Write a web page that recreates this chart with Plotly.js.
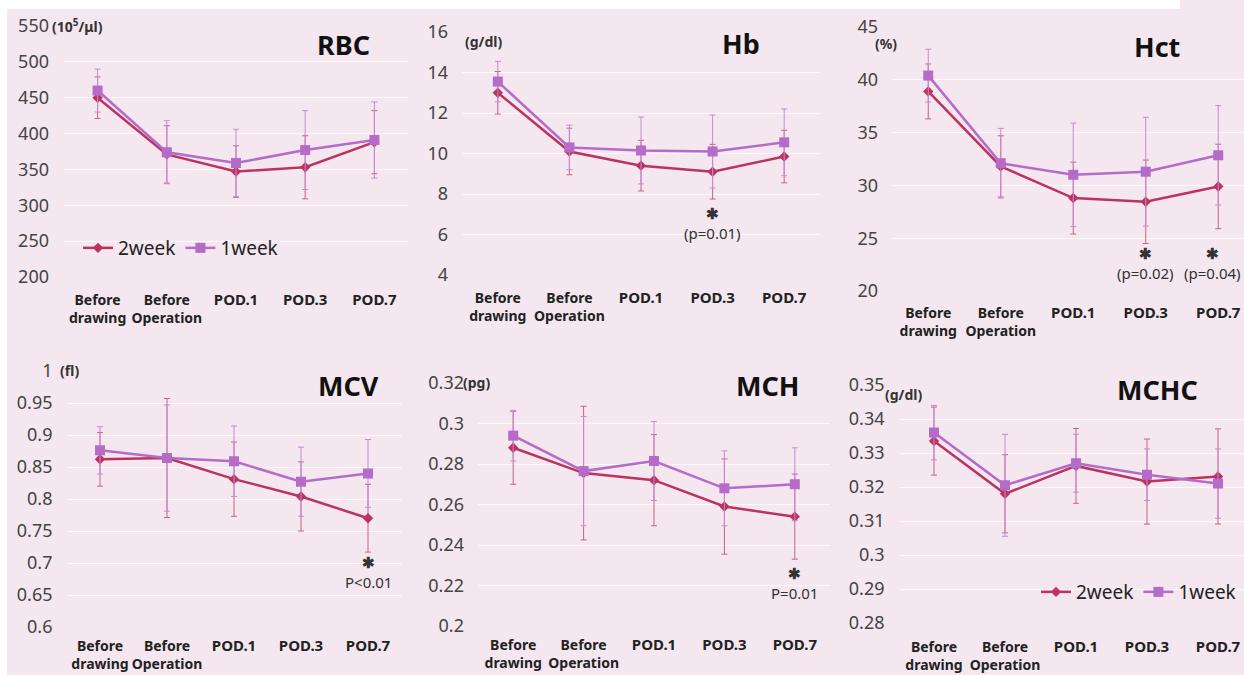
<!DOCTYPE html>
<html><head><meta charset="utf-8">
<script src="https://cdn.plot.ly/plotly-3.0.1.min.js"></script>
<style>html,body{margin:0;padding:0;background:#fff}</style>
</head><body><div id="chart" style="width:1244px;height:675px"></div>
<script>
// ---- data ----
const categories = ['Before drawing','Before Operation','POD.1','POD.3','POD.7'];
const xTickText = ['<b>Before</b><br><b>drawing</b>','<b>Before</b><br><b>Operation</b>',
  '<b><span style="font-size:15px">POD.1</span></b>','<b><span style="font-size:15px">POD.3</span></b>','<b><span style="font-size:15px">POD.7</span></b>'];
const seriesNames = ['2week','1week'];

const rbc2w = [450, 371, 347, 353, 388];
const rbc2wErr = [29, 40, 36, 44, 44];
const rbc1w = [460, 374, 359, 377, 391];
const rbc1wErr = [30, 44, 47, 55, 53];
const rbcTicks = [200, 250, 300, 350, 400, 450, 500, 550];

const hb2w = [13.0, 10.1, 9.4, 9.1, 9.85];
const hb2wErr = [1.05, 1.15, 1.25, 1.35, 1.3];
const hb1w = [13.55, 10.3, 10.15, 10.1, 10.55];
const hb1wErr = [1.0, 1.1, 1.65, 1.8, 1.65];
const hbTicks = [4, 6, 8, 10, 12, 14, 16];

const hct2w = [38.9, 31.8, 28.8, 28.45, 29.9];
const hct2wErr = [2.6, 2.9, 3.4, 3.95, 4.0];
const hct1w = [40.4, 32.1, 31.0, 31.3, 32.85];
const hct1wErr = [2.5, 3.3, 4.9, 5.15, 4.7];
const hctTicks = [20, 25, 30, 35, 40, 45];

const mcv2w = [0.862, 0.864, 0.831, 0.804, 0.770];
const mcv2wErr = [0.042, 0.093, 0.058, 0.054, 0.053];
const mcv1w = [0.876, 0.864, 0.859, 0.827, 0.840];
const mcv1wErr = [0.037, 0.083, 0.055, 0.054, 0.053];
const mcvTicks = [0.6, 0.65, 0.7, 0.75, 0.8, 0.85, 0.9, 0.95, 1];
const mcvTickText = ['0.6','0.65','0.7','0.75','0.8','0.85','0.9','0.95','1'];

const mch2w = [0.288, 0.2755, 0.272, 0.259, 0.254];
const mch2wErr = [0.018, 0.033, 0.0225, 0.0235, 0.021];
const mch1w = [0.294, 0.2765, 0.2815, 0.268, 0.270];
const mch1wErr = [0.0125, 0.027, 0.0195, 0.0185, 0.018];
const mchTicks = [0.2, 0.22, 0.24, 0.26, 0.28, 0.3, 0.32];
const mchTickText = ['0.2','0.22','0.24','0.26','0.28','0.3','0.32'];

const mchc2w = [0.3335, 0.318, 0.3262, 0.3216, 0.3231];
const mchc2wErr = [0.010, 0.0115, 0.011, 0.0125, 0.014];
const mchc1w = [0.336, 0.3205, 0.327, 0.3236, 0.321];
const mchc1wErr = [0.008, 0.015, 0.0085, 0.0076, 0.0102];
const mchcTicks = [0.28, 0.29, 0.3, 0.31, 0.32, 0.33, 0.34, 0.35];
const mchcTickText = ['0.28','0.29','0.3','0.31','0.32','0.33','0.34','0.35'];

// ---- layout / style ----
const W = 1244, H = 675;
const RED = '#bb3460', PURPLE = '#b56bc8';
const RED_ERR = '#cc6283', PURPLE_ERR = '#c58bd2';
const BG = '#f4e7ef';
const FONT = 'Noto Sans, Open Sans, sans-serif';

const panels = [
  {name:'RBC', unit:'(10<sup>5</sup>/μl)', s2:rbc2w, e2:rbc2wErr, s1:rbc1w, e1:rbc1wErr, ticks:rbcTicks, tt:rbcTicks.map(String),
   px:[63,409], py:[26,277], yr:[200,550], xr:4.5, title:[343,44], unitPos:[77,26], legend:'legend', xstand:13},
  {name:'Hb', unit:'(g/dl)', s2:hb2w, e2:hb2wErr, s1:hb1w, e1:hb1wErr, ticks:hbTicks, tt:hbTicks.map(String),
   px:[462,820], py:[32,275], yr:[4,16], xr:4.5, title:[741,43], unitPos:[483,42], xstand:13},
  {name:'Hct', unit:'(%)', s2:hct2w, e2:hct2wErr, s1:hct1w, e1:hct1wErr, ticks:hctTicks, tt:hctTicks.map(String),
   px:[892,1244], py:[27,291], yr:[20,45], xr:4.355, title:[1157,46], unitPos:[886,43], xstand:12},
  {name:'MCV', unit:'(fl)', s2:mcv2w, e2:mcv2wErr, s1:mcv1w, e1:mcv1wErr, ticks:mcvTicks, tt:mcvTickText,
   px:[66.5,401.5], py:[371,627], yr:[0.6,1.0], xr:4.5, title:[348,385], unitPos:[69,370], xstand:9},
  {name:'MCH', unit:'(pg)', s2:mch2w, e2:mch2wErr, s1:mch1w, e1:mch1wErr, ticks:mchTicks, tt:mchTickText,
   px:[478,830], py:[383,626], yr:[0.2,0.32], xr:4.5, title:[767,385], unitPos:[476,383], xstand:9},
  {name:'MCHC', unit:'(g/dl)', s2:mchc2w, e2:mchc2wErr, s1:mchc1w, e1:mchc1wErr, ticks:mchcTicks, tt:mchcTickText,
   px:[898.5,1244], py:[385,623], yr:[0.28,0.35], xr:4.366, title:[1157,390], unitPos:[903,394], legend:'legend2', xstand:14}
];

const fx = p => p / W;
const fy = p => 1 - p / H;

const traces = [];
const legendStyle = {orientation:'h', xanchor:'left', yanchor:'middle',
  bgcolor:'rgba(0,0,0,0)', font:{size:19, color:'#222', family:FONT}, itemwidth:30, tracegroupgap:0};
const layout = {
  width: W, height: H,
  margin: {l:0, r:0, t:0, b:0},
  paper_bgcolor: BG, plot_bgcolor: BG,
  font: {family: FONT, color: '#333'},
  showlegend: true,
  legend: Object.assign({x:fx(78), y:fy(248)}, legendStyle),
  legend2: Object.assign({x:fx(1036), y:fy(592)}, legendStyle),
  annotations: [],
  shapes: [
    {type:'rect', xref:'paper', yref:'paper', x0:0, x1:fx(1180), y0:fy(9), y1:1, fillcolor:'#ffffff', line:{width:0}, layer:'below'},
    {type:'rect', xref:'paper', yref:'paper', x0:0, x1:fx(7), y0:0, y1:1, fillcolor:'#ffffff', line:{width:0}, layer:'below'}
  ]
};

panels.forEach((p, i) => {
  const n = i + 1;
  const xk = n === 1 ? 'x' : 'x' + n;
  const yk = n === 1 ? 'y' : 'y' + n;
  const xa = n === 1 ? 'xaxis' : 'xaxis' + n;
  const ya = n === 1 ? 'yaxis' : 'yaxis' + n;
  const inLegend = !!p.legend;
  traces.push({
    type:'scatter', mode:'lines+markers', name:seriesNames[0], x:categories, y:p.s2,
    xaxis:xk, yaxis:yk, showlegend:inLegend, legend:p.legend || 'legend',
    line:{color:RED, width:2.5}, marker:{symbol:'diamond', size:8, color:RED},
    error_y:{type:'data', array:p.e2, visible:true, color:RED_ERR, thickness:1, width:3},
    hoverinfo:'skip'
  });
  traces.push({
    type:'scatter', mode:'lines+markers', name:seriesNames[1], x:categories, y:p.s1,
    xaxis:xk, yaxis:yk, showlegend:inLegend, legend:p.legend || 'legend',
    line:{color:PURPLE, width:2.5}, marker:{symbol:'square', size:10, color:PURPLE},
    error_y:{type:'data', array:p.e1, visible:true, color:PURPLE_ERR, thickness:1, width:3},
    hoverinfo:'skip'
  });
  layout[xa] = {
    domain:[fx(p.px[0]), fx(p.px[1])], anchor:yk, type:'category',
    categoryorder:'array', categoryarray:categories,
    tickmode:'array', tickvals:categories, ticktext:xTickText,
    range:[-0.5, p.xr], showgrid:false, zeroline:false, showline:false, ticks:'',
    ticklabelstandoff:p.xstand,
    tickfont:{family:FONT, size:14, color:'#222'}, fixedrange:true
  };
  layout[ya] = {
    domain:[fy(p.py[1]), fy(p.py[0])], anchor:xk, range:p.yr,
    tickmode:'array', tickvals:p.ticks, ticktext:p.tt,
    showgrid:true, gridcolor:'#fcf8fb', gridwidth:1, zeroline:false, showline:false, ticks:'',
    ticklabelstandoff:13,
    tickfont:{family:FONT, size:18, color:'#444'}, fixedrange:true
  };
  layout.annotations.push({xref:'paper', yref:'paper', x:fx(p.title[0]), y:fy(p.title[1]),
    text:'<b>' + p.name + '</b>', showarrow:false, font:{size:27, color:'#111', family:FONT},
    xanchor:'center', yanchor:'middle'});
  layout.annotations.push({xref:'paper', yref:'paper', x:fx(p.unitPos[0]), y:fy(p.unitPos[1]),
    text:'<b>' + p.unit + '</b>', showarrow:false, font:{size:14, color:'#333', family:FONT},
    xanchor:'center', yanchor:'middle'});
});

// significance marks: star over p-value, one text each
const sig = [
  {xk:'x2', cat:'POD.3', label:'(p=0.01)', cy:223, dx:0},
  {xk:'x3', cat:'POD.3', label:'(p=0.02)', cy:263, dx:0},
  {xk:'x3', cat:'POD.7', label:'(p=0.04)', cy:263, dx:-6},
  {xk:'x4', cat:'POD.7', label:'P<0.01', cy:572, dx:0},
  {xk:'x5', cat:'POD.7', label:'P=0.01', cy:583, dx:0}
];
sig.forEach(s => {
  layout.annotations.push({xref:s.xk, yref:'paper', x:s.cat, y:fy(s.cy), xshift:s.dx,
    text:'<b>✱</b><br>' + s.label.replace('<','&lt;'),
    showarrow:false, font:{size:15, color:'#333', family:FONT}, xanchor:'center', yanchor:'middle'});
});

Plotly.newPlot('chart', traces, layout, {displayModeBar:false, staticPlot:true});
</script>
</body></html>
